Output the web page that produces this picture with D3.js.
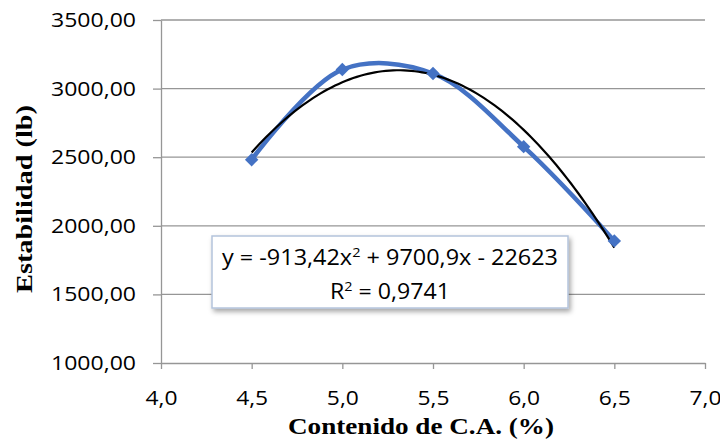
<!DOCTYPE html>
<html>
<head>
<meta charset="utf-8">
<script src="https://cdn.jsdelivr.net/npm/d3@7"></script>
<style>
  body { margin: 0; background: #fff; }
  .tick text { font-family: "Open Sans", sans-serif; font-size: 20px; fill: #000; }
</style>
</head>
<body>
<div id="chart"></div>
<script>
// data
const contenido = [4.5, 5.0, 5.5, 6.0, 6.5];
const estabilidad = [2482, 3139, 3110, 2577, 1890];
const xTicks = [4.0, 4.5, 5.0, 5.5, 6.0, 6.5, 7.0];
const yTicks = [1000, 1500, 2000, 2500, 3000, 3500];
// polynomial trend line coefficients (from the label)
const coef = [-913.42, 9700.9, -22623];

let margin = { top: 20, right: 15, bottom: 80, left: 161 };
let width = 720 - margin.left - margin.right;
let height = 443 - margin.top - margin.bottom;

let xScale = d3.scaleLinear().domain([4, 7]).range([0, width]);
let yScale = d3.scaleLinear().domain([1000, 3500]).range([height, 0]);

let svg = d3
  .select('#chart')
  .append('svg')
  .attr('width', 720)
  .attr('height', 443);

let defs = svg.append('defs');
let f = defs.append('filter').attr('id', 'shadow').attr('x', '-10%').attr('y', '-20%').attr('width', '130%').attr('height', '160%');
f.append('feDropShadow').attr('dx', 2).attr('dy', 3).attr('stdDeviation', 2.5).attr('flood-color', '#000').attr('flood-opacity', 0.35);

let g = svg.append('g').attr('transform', `translate(${margin.left}, ${margin.top})`);

// gridlines
g.selectAll('.grid')
  .data(yTicks.slice(1))
  .enter()
  .append('line')
  .attr('x1', 0)
  .attr('x2', width)
  .attr('y1', d => yScale(d))
  .attr('y2', d => yScale(d))
  .attr('stroke', '#969696')
  .attr('stroke-width', 1.3);

let fmtY = d => d3.format('.2f')(d).replace('.', ',');
let fmtX = d => d3.format('.1f')(d).replace('.', ',');

let yAxis = g.append('g').call(d3.axisLeft(yScale).tickValues(yTicks).tickFormat(fmtY).tickSize(8).tickSizeOuter(0).tickPadding(17));
let xAxis = g.append('g').attr('transform', `translate(0,${height})`)
  .call(d3.axisBottom(xScale).tickValues(xTicks).tickFormat(fmtX).tickSize(6).tickSizeOuter(0).tickPadding(22));
[yAxis, xAxis].forEach(a => {
  a.select('.domain').attr('stroke', '#969696').attr('stroke-width', 1.3);
  a.selectAll('.tick line').attr('stroke', '#969696').attr('stroke-width', 1.3);
});
// labels in the picture are a bit wider than the font
yAxis.selectAll('.tick text').attr('textLength', 85).attr('lengthAdjust', 'spacingAndGlyphs');
xAxis.selectAll('.tick text').attr('textLength', 32).attr('lengthAdjust', 'spacingAndGlyphs');

// smoothed data line
let line = d3.line()
  .x((d, i) => xScale(contenido[i]))
  .y(d => yScale(d))
  .curve(d3.curveCatmullRom.alpha(0.5));

g.append('path')
  .datum(estabilidad)
  .attr('d', line)
  .attr('fill', 'none')
  .attr('stroke', '#4472c4')
  .attr('stroke-width', 4.5)
  .attr('stroke-linejoin', 'round');

// trend line
let trendX = d3.range(0, 101).map(i => 4.5 + i * 0.02);
let trend = d3.line()
  .x(d => xScale(d))
  .y(d => yScale(coef[0] * d * d + coef[1] * d + coef[2]));
g.append('path')
  .datum(trendX)
  .attr('d', trend)
  .attr('fill', 'none')
  .attr('stroke', '#000')
  .attr('stroke-width', 2.2);

// diamond markers
g.selectAll('.dot')
  .data(estabilidad)
  .enter()
  .append('path')
  .attr('class', 'dot')
  .attr('d', d3.symbol().type(d3.symbolDiamond2).size(115))
  .attr('transform', (d, i) => `translate(${xScale(contenido[i])},${yScale(d)})`)
  .attr('fill', '#4472c4');

// equation label
let box = svg.append('g').attr('transform', 'translate(212, 236)');
box.append('rect')
  .attr('width', 356)
  .attr('height', 72)
  .attr('fill', '#fff')
  .attr('stroke', '#b4c4dc')
  .attr('stroke-width', 1.5)
  .attr('filter', 'url(#shadow)');
let eq = box.append('text')
  .attr('x', 178)
  .attr('y', 29)
  .attr('text-anchor', 'middle')
  .attr('textLength', 336)
  .attr('lengthAdjust', 'spacingAndGlyphs')
  .style('font-family', '"Open Sans", sans-serif')
  .style('font-size', '21px');
eq.append('tspan').text('y = -913,42x');
eq.append('tspan').attr('dy', -8).style('font-size', '13px').text('2');
eq.append('tspan').attr('dy', 8).text(' + 9700,9x - 22623');
let r2 = box.append('text')
  .attr('x', 178)
  .attr('y', 63)
  .attr('text-anchor', 'middle')
  .attr('textLength', 120)
  .attr('lengthAdjust', 'spacingAndGlyphs')
  .style('font-family', '"Open Sans", sans-serif')
  .style('font-size', '21px');
r2.append('tspan').text('R');
r2.append('tspan').attr('dy', -8).style('font-size', '13px').text('2');
r2.append('tspan').attr('dy', 8).text(' = 0,9741');

// axis titles
svg.append('text')
  .attr('x', 421)
  .attr('y', 434)
  .attr('text-anchor', 'middle')
  .attr('textLength', 266)
  .attr('lengthAdjust', 'spacingAndGlyphs')
  .style('font-family', '"Liberation Serif", serif')
  .style('font-weight', 'bold')
  .style('font-size', '23px')
  .text('Contenido de C.A. (%)');
svg.append('text')
  .attr('transform', 'translate(32, 199) rotate(-90)')
  .attr('text-anchor', 'middle')
  .attr('textLength', 188)
  .attr('lengthAdjust', 'spacingAndGlyphs')
  .style('font-family', '"Liberation Serif", serif')
  .style('font-weight', 'bold')
  .style('font-size', '24px')
  .text('Estabilidad (lb)');
</script>
</body>
</html>
